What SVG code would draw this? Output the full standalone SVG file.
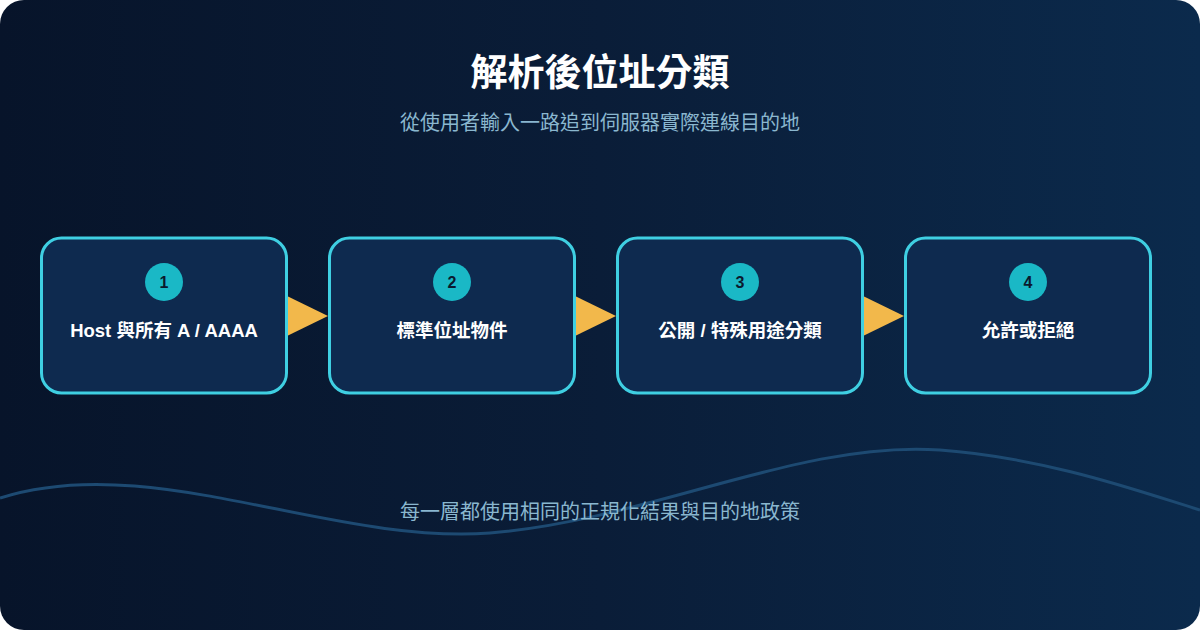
<svg xmlns="http://www.w3.org/2000/svg" width="1200" height="630" viewBox="0 0 1200 630">
<defs>
<linearGradient id="bg" x1="0" y1="0" x2="1" y2="0">
<stop offset="0" stop-color="#07142a"/>
<stop offset="0.5" stop-color="#0a1d38"/>
<stop offset="1" stop-color="#0b2a4c"/>
</linearGradient>
<style>
.box{fill:#0e2a4f;stroke:#3fcfe2;stroke-width:3}
.badge{fill:#1ab8c6}
.num{font-family:"Liberation Sans",Arial,sans-serif;font-weight:bold;font-size:16px;fill:#0b1a2e;text-anchor:middle}
.lbl{font-family:"Liberation Sans","Noto Sans CJK TC",sans-serif;font-weight:bold;font-size:18.5px;fill:#ffffff;text-anchor:middle}
.arrow{fill:#f2b84b}
.sub{font-family:"Noto Sans CJK TC",sans-serif;font-size:20px;fill:#8ab7cf;text-anchor:middle}
</style>
</defs>
<rect x="0" y="0" width="1200" height="630" fill="#ffffff"/>
<rect x="0" y="0" width="1200" height="630" rx="24" fill="url(#bg)"/>
<path d="M0,498 C150,450 330,545 490,533 C650,520 800,440 940,450 C1050,458 1150,495 1200,510" fill="none" stroke="#1d4a72" stroke-width="3"/>
<text x="600" y="86" font-family="Noto Sans CJK TC, sans-serif" font-weight="bold" font-size="37" fill="#ffffff" text-anchor="middle">解析後位址分類</text>
<text x="600" y="130" class="sub">從使用者輸入一路追到伺服器實際連線目的地</text>
<g id="connectors">
<polygon class="arrow" points="287,296 328,316 287,336"/>
<polygon class="arrow" points="575,296 616,316 575,336"/>
<polygon class="arrow" points="863,296 904,316 863,336"/>
</g>
<g id="node1">
<rect class="box" x="41.5" y="238" width="245" height="155" rx="20"/>
<circle class="badge" cx="164" cy="282" r="19"/>
<text class="num" x="164" y="288">1</text>
<text class="lbl" x="164" y="337">Host 與所有 A / AAAA</text>
</g>
<g id="node2">
<rect class="box" x="329.5" y="238" width="245" height="155" rx="20"/>
<circle class="badge" cx="452" cy="282" r="19"/>
<text class="num" x="452" y="288">2</text>
<text class="lbl" x="452" y="337">標準位址物件</text>
</g>
<g id="node3">
<rect class="box" x="617.5" y="238" width="245" height="155" rx="20"/>
<circle class="badge" cx="740" cy="282" r="19"/>
<text class="num" x="740" y="288">3</text>
<text class="lbl" x="740" y="337">公開 / 特殊用途分類</text>
</g>
<g id="node4">
<rect class="box" x="905.5" y="238" width="245" height="155" rx="20"/>
<circle class="badge" cx="1028" cy="282" r="19"/>
<text class="num" x="1028" y="288">4</text>
<text class="lbl" x="1028" y="337">允許或拒絕</text>
</g>
<text x="600" y="519" class="sub">每一層都使用相同的正規化結果與目的地政策</text>
</svg>
